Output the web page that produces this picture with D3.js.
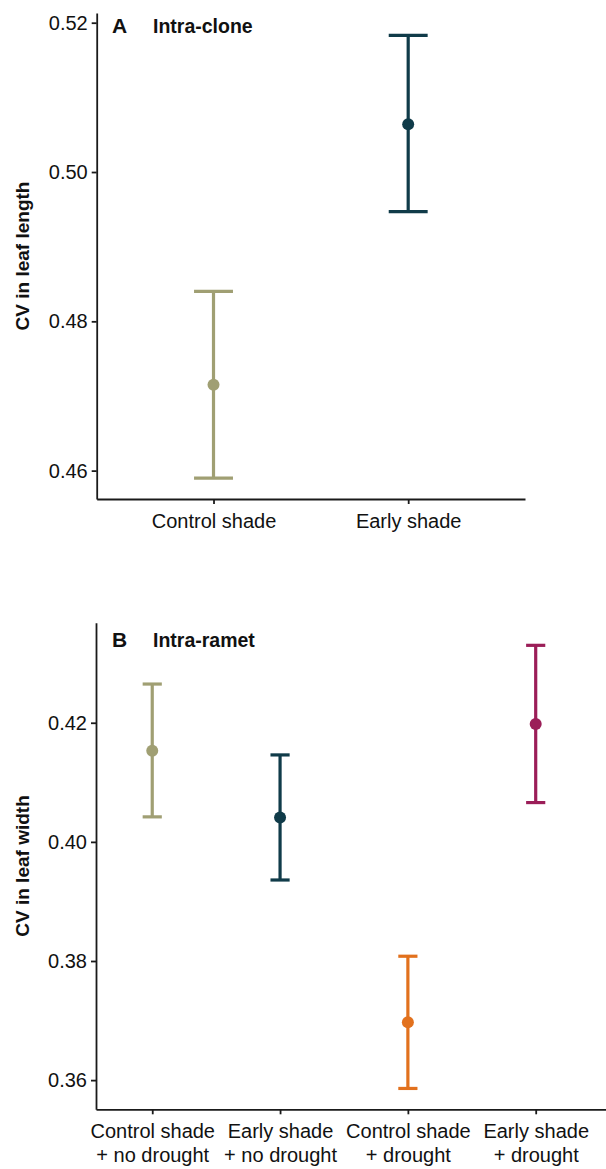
<!DOCTYPE html>
<html>
<head>
<meta charset="utf-8">
<script src="https://cdn.jsdelivr.net/npm/d3@7"></script>
<style>
  body { margin: 0; background: #fff; }
  text { font-family: "Liberation Sans", Arial, Helvetica, sans-serif; fill: #111; }
  .axis path, .axis line { stroke: #1a1a1a; stroke-width: 1.8; }
  .axis text { font-size: 20px; fill: #111; }
</style>
</head>
<body>
<script>
// panel A data
var topCategories = ["Control shade", "Early shade"];
var topMeans = [0.4715, 0.5064];
var topLower = [0.4590, 0.4947];
var topUpper = [0.4840, 0.5183];
var topColors = ["#a09f73", "#103b49"];
var topTicks = [0.46, 0.48, 0.50, 0.52];

// panel B data
var bottomCategories = [
  ["Control shade", "+ no drought"],
  ["Early shade", "+ no drought"],
  ["Control shade", "+ drought"],
  ["Early shade", "+ drought"]
];
var bottomMeans = [0.4153, 0.4041, 0.3697, 0.4198];
var bottomLower = [0.4042, 0.3936, 0.3586, 0.4066];
var bottomUpper = [0.4265, 0.4146, 0.3808, 0.4330];
var bottomColors = ["#a09f73", "#103b49", "#e2711d", "#9b1e58"];
var bottomTicks = [0.36, 0.38, 0.40, 0.42];

var svg = d3.select("body").append("svg")
  .attr("width", 606)
  .attr("height", 1169);

function drawPanel(opts) {
  var g = svg.append("g");

  var x = d3.scaleLinear().domain(opts.xDomain).range(opts.xRange);
  var y = d3.scaleLinear().domain(opts.yDomain).range(opts.yRange);

  var xAxis = d3.axisBottom(x)
    .tickValues(d3.range(opts.cats.length))
    .tickSize(5).tickSizeOuter(0).tickPadding(10)
    .tickFormat(function() { return ""; });
  var yAxis = d3.axisLeft(y)
    .tickValues(opts.ticks)
    .tickSize(5).tickSizeOuter(0).tickPadding(4)
    .tickFormat(d3.format(".2f"));

  var gx = g.append("g")
    .attr("class", "axis")
    .attr("transform", "translate(0," + opts.yRange[0] + ")")
    .call(xAxis);
  gx.selectAll(".tick text").remove();
  gx.selectAll(".tick").append("text")
    .attr("text-anchor", "middle")
    .attr("fill", "#111")
    .each(function(d) {
      var lab = opts.cats[d];
      var lines = Array.isArray(lab) ? lab : [lab];
      var t = d3.select(this);
      lines.forEach(function(l, i) {
        t.append("tspan").attr("x", 0).attr("y", 29 + i * 23.5).text(l);
      });
    });

  g.append("g")
    .attr("class", "axis")
    .attr("transform", "translate(" + opts.xRange[0] + ",0)")
    .call(yAxis);

  // error bars
  var idx = d3.range(opts.means.length);
  var bars = g.append("g").selectAll("g.bar").data(idx).enter().append("g");
  bars.append("line")
    .attr("x1", function(i) { return x(i); })
    .attr("x2", function(i) { return x(i); })
    .attr("y1", function(i) { return y(opts.lower[i]); })
    .attr("y2", function(i) { return y(opts.upper[i]); })
    .attr("stroke", function(i) { return opts.colors[i]; })
    .attr("stroke-width", 3.2);
  [opts.lower, opts.upper].forEach(function(arr) {
    bars.append("line")
      .attr("x1", function(i) { return x(i - opts.capW); })
      .attr("x2", function(i) { return x(i + opts.capW); })
      .attr("y1", function(i) { return y(arr[i]); })
      .attr("y2", function(i) { return y(arr[i]); })
      .attr("stroke", function(i) { return opts.colors[i]; })
      .attr("stroke-width", 3.2);
  });
  bars.append("circle")
    .attr("cx", function(i) { return x(i); })
    .attr("cy", function(i) { return y(opts.means[i]); })
    .attr("r", 6)
    .attr("fill", function(i) { return opts.colors[i]; });

  // panel label
  g.append("text")
    .attr("x", 112).attr("y", opts.titleY)
    .attr("font-size", 21).attr("font-weight", "bold")
    .text(opts.letter);
  g.append("text")
    .attr("x", 153).attr("y", opts.titleY)
    .attr("font-size", 19.5).attr("font-weight", "bold")
    .text(opts.title);

  // y title
  var cy = (opts.yRange[0] + opts.yRange[1]) / 2;
  g.append("text")
    .attr("transform", "translate(29," + cy + ") rotate(-90)")
    .attr("text-anchor", "middle")
    .attr("font-size", 19).attr("font-weight", "bold")
    .text(opts.yTitle);
}

drawPanel({
  cats: topCategories, means: topMeans, lower: topLower, upper: topUpper,
  colors: topColors, ticks: topTicks,
  xDomain: [-0.6, 1.6], xRange: [96.7, 525],
  yDomain: [0.4562, 0.5213], yRange: [499, 13],
  capW: 0.1, letter: "A", title: "Intra-clone", titleY: 33,
  yTitle: "CV in leaf length"
});

drawPanel({
  cats: bottomCategories, means: bottomMeans, lower: bottomLower, upper: bottomUpper,
  colors: bottomColors, ticks: bottomTicks,
  xDomain: [-0.44, 3.55], xRange: [96, 606],
  yDomain: [0.3551, 0.4368], yRange: [1109.3, 622.7],
  capW: 0.075, letter: "B", title: "Intra-ramet", titleY: 647,
  yTitle: "CV in leaf width"
});
</script>
</body>
</html>
